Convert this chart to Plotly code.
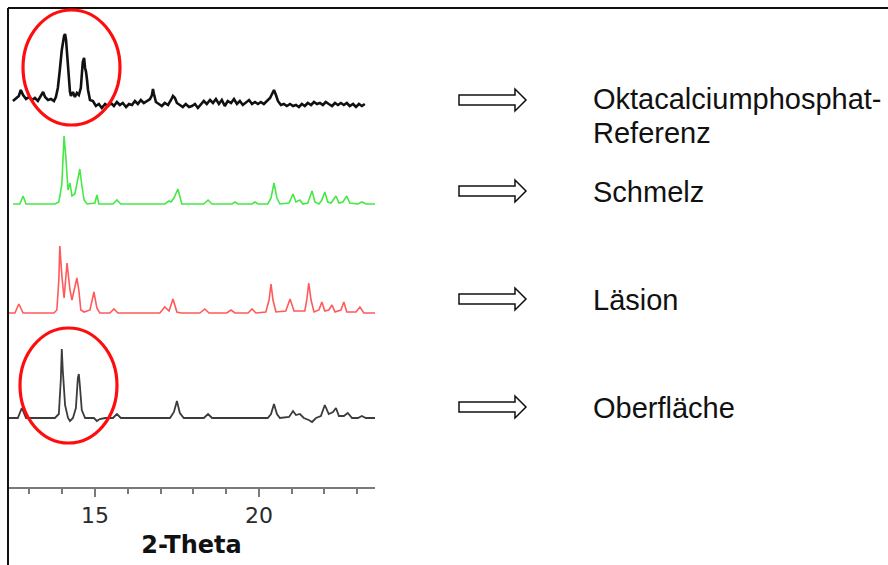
import plotly.graph_objects as go

W, H = 888, 565

# ---------------- data (2-Theta in degrees, intensity in arbitrary units) ----------------
ref_theta = [12.50, 12.59, 12.68, 12.74, 12.81, 12.90, 12.99, 13.08, 13.17, 13.26, 13.35, 13.42, 13.48,
             13.57, 13.66, 13.75, 13.81, 13.87, 13.93, 13.99, 14.06, 14.09, 14.12, 14.18, 14.24, 14.27,
             14.33, 14.39, 14.45, 14.51, 14.57, 14.63, 14.67, 14.70, 14.73, 14.76, 14.79, 14.85, 14.94,
             15.03, 15.12, 15.21, 15.31, 15.40, 15.49, 15.58, 15.67, 15.76, 15.85, 15.95, 16.04, 16.13,
             16.22, 16.31, 16.40, 16.49, 16.59, 16.68, 16.74, 16.77, 16.80, 16.86, 16.95, 17.04, 17.13,
             17.23, 17.32, 17.38, 17.44, 17.50, 17.59, 17.68, 17.77, 17.87, 17.96, 18.05, 18.14, 18.23,
             18.32, 18.41, 18.51, 18.60, 18.69, 18.78, 18.87, 18.96, 19.05, 19.15, 19.24, 19.33, 19.42,
             19.51, 19.60, 19.70, 19.79, 19.88, 19.97, 20.06, 20.15, 20.24, 20.34, 20.40, 20.46, 20.52,
             20.58, 20.67, 20.76, 20.85, 20.95, 21.04, 21.13, 21.22, 21.31, 21.40, 21.49, 21.59, 21.68,
             21.77, 21.86, 21.95, 22.04, 22.13, 22.23, 22.32, 22.41, 22.50, 22.59, 22.68, 22.77, 22.87,
             22.96, 23.05, 23.14, 23.23]
ref_int = [9, 12, 14, 20, 15, 11, 13, 10, 12, 9, 14, 18, 13,
           10, 11, 9, 13, 22, 40, 60, 74, 76, 70, 40, 18, 14,
           18, 13, 17, 15, 22, 48, 52, 42, 38, 30, 20, 10, 9,
           4, 6, 2, 6, 4, 7, 4, 8, 5, 7, 3, 6, 5,
           9, 6, 10, 7, 9, 11, 15, 21, 16, 8, 6, 4, 7,
           5, 10, 14, 12, 7, 5, 3, 6, 3, 4, 6, 2, 5,
           9, 6, 10, 7, 11, 6, 10, 4, 9, 7, 11, 6, 9,
           5, 7, 10, 6, 8, 6, 8, 6, 9, 12, 16, 20, 15,
           9, 5, 6, 4, 6, 4, 5, 3, 6, 4, 7, 5, 8,
           6, 7, 5, 8, 6, 4, 7, 5, 7, 5, 7, 4, 6,
           3, 6, 4, 6]

enamel_theta = [12.50, 12.71, 12.81, 12.90, 13.78, 13.90, 13.99, 14.06, 14.12, 14.18, 14.24, 14.30,
                14.39, 14.48, 14.54, 14.60, 14.67, 14.76, 15.00, 15.06, 15.12, 15.55, 15.67, 15.79,
                17.13, 17.26, 17.32, 17.41, 17.50, 17.53, 17.65, 18.32, 18.45, 18.57, 19.18, 19.27,
                19.36, 19.79, 19.88, 19.97, 20.27, 20.37, 20.46, 20.55, 20.64, 20.92, 21.04, 21.13,
                21.25, 21.34, 21.49, 21.62, 21.71, 21.83, 21.92, 22.01, 22.10, 22.20, 22.35, 22.44,
                22.56, 22.68, 22.77, 23.02, 23.14, 23.26, 23.54]
enamel_int = [6, 6, 14, 6, 6, 8, 25, 74, 50, 20, 27, 14,
              16, 32, 41, 25, 10, 6, 7, 15, 6, 6, 10, 6,
              6, 9, 8, 12, 20, 21, 6, 6, 10, 6, 6, 8,
              6, 6, 8, 6, 6, 12, 27, 12, 6, 7, 16, 8,
              10, 6, 7, 19, 8, 6, 10, 18, 8, 7, 14, 7,
              8, 14, 7, 6, 8, 6, 6]

lesion_theta = [12.35, 12.56, 12.68, 12.81, 13.75, 13.84, 13.90, 13.93, 13.99, 14.06, 14.15, 14.24,
                14.30, 14.39, 14.45, 14.51, 14.57, 14.67, 14.85, 14.97, 15.06, 15.15, 15.46, 15.58,
                15.70, 16.98, 17.13, 17.26, 17.38, 17.50, 17.62, 18.20, 18.35, 18.48, 19.02, 19.15,
                19.27, 19.67, 19.79, 19.91, 20.21, 20.31, 20.37, 20.43, 20.52, 20.82, 20.95, 21.07,
                21.40, 21.46, 21.52, 21.59, 21.68, 21.83, 21.92, 22.01, 22.13, 22.23, 22.32, 22.50,
                22.59, 22.68, 22.96, 23.08, 23.20, 23.54]
lesion_int = [7, 7, 16, 7, 7, 10, 40, 74, 45, 22, 57, 30,
              20, 35, 42, 30, 10, 8, 10, 28, 12, 7, 7, 11,
              7, 7, 13, 9, 21, 8, 7, 7, 11, 7, 7, 10,
              7, 7, 11, 7, 8, 20, 36, 20, 8, 9, 21, 9,
              9, 20, 37, 20, 8, 10, 18, 9, 10, 15, 8, 10,
              18, 8, 8, 13, 7, 7]

surface_theta = [12.35, 12.65, 12.77, 12.90, 13.78, 13.90, 13.96, 13.99, 14.02, 14.09, 14.18, 14.24,
                 14.33, 14.42, 14.48, 14.51, 14.54, 14.60, 14.70, 14.97, 15.06, 15.15, 15.31, 15.55,
                 15.67, 15.79, 17.29, 17.41, 17.50, 17.59, 17.71, 18.32, 18.45, 18.57, 20.27, 20.37,
                 20.46, 20.55, 20.64, 20.92, 21.04, 21.13, 21.25, 21.37, 21.52, 21.62, 21.74, 21.89,
                 22.01, 22.13, 22.26, 22.35, 22.44, 22.59, 22.71, 22.84, 23.02, 23.14, 23.26, 23.54]
surface_int = [7, 7, 17, 7, 7, 11, 45, 76, 55, 20, 7, 4,
               7, 17, 47, 51, 40, 15, 7, 7, 4, 6, 7, 7,
               11, 7, 7, 13, 24, 12, 7, 7, 11, 7, 7, 11,
               21, 11, 7, 8, 14, 10, 11, 7, 5, 3, 7, 9,
               20, 11, 13, 17, 9, 9, 12, 7, 7, 9, 7, 7]

# vertical offsets of the stacked patterns (same arbitrary units)
offsets = {"ref": 455, "enamel": 355, "lesion": 245, "surface": 140}

labels = ["Oktacalciumphosphat-", "Referenz", "Schmelz", "Läsion", "Oberfläche"]
xticks = [15, 20]

# ---------------- helpers for layout (pixel -> paper) ----------------
def px(x):
    return x / W

def py(y):
    return 1 - y / H

fig = go.Figure()

fig.add_trace(go.Scatter(x=ref_theta, y=[v + offsets["ref"] for v in ref_int], mode="lines",
                         line=dict(color="#111111", width=2.6), hoverinfo="skip"))
fig.add_trace(go.Scatter(x=enamel_theta, y=[v + offsets["enamel"] for v in enamel_int], mode="lines",
                         line=dict(color="#45e845", width=1.6), hoverinfo="skip"))
fig.add_trace(go.Scatter(x=lesion_theta, y=[v + offsets["lesion"] for v in lesion_int], mode="lines",
                         line=dict(color="#ff5a5a", width=1.6), hoverinfo="skip"))
fig.add_trace(go.Scatter(x=surface_theta, y=[v + offsets["surface"] for v in surface_int], mode="lines",
                         line=dict(color="#3c3c3c", width=1.8), hoverinfo="skip"))

shapes = []
# frame (top and left border)
shapes.append(dict(type="line", xref="paper", yref="paper", x0=px(8), x1=px(W), y0=py(8), y1=py(8),
                   line=dict(color="#111111", width=2)))
shapes.append(dict(type="line", xref="paper", yref="paper", x0=px(8), x1=px(8), y0=py(8), y1=py(H),
                   line=dict(color="#111111", width=2)))
# red ellipses
shapes.append(dict(type="circle", xref="paper", yref="paper", x0=px(23), x1=px(120), y0=py(10), y1=py(125),
                   line=dict(color="#ff0d0d", width=3.2)))
shapes.append(dict(type="circle", xref="paper", yref="paper", x0=px(20), x1=px(117), y0=py(328), y1=py(443),
                   line=dict(color="#ff0d0d", width=3.2)))

# outline arrows
def arrow_path(yc):
    pts = [(459, yc - 5), (515, yc - 5), (515, yc - 11), (526, yc), (515, yc + 11), (515, yc + 5), (459, yc + 5)]
    return "M " + " L ".join(f"{px(x):.5f},{py(y):.5f}" for x, y in pts) + " Z"

for yc in [100, 191, 299, 407]:
    shapes.append(dict(type="path", xref="paper", yref="paper", path=arrow_path(yc),
                       line=dict(color="#111111", width=1.5), fillcolor="white"))

annotations = []
label_y = [99, 133, 192, 300, 408]
for t, yy in zip(labels, label_y):
    annotations.append(dict(text=t, xref="paper", yref="paper", x=px(591), y=py(yy), xanchor="left",
                            yanchor="middle", showarrow=False,
                            font=dict(family="Liberation Sans, Arial", size=29, color="#111111")))

fig.update_layout(
    width=W, height=H,
    margin=dict(l=0, r=0, t=0, b=0),
    paper_bgcolor="white", plot_bgcolor="white",
    showlegend=False,
    shapes=shapes, annotations=annotations,
    xaxis=dict(domain=[px(8), px(375)], range=[12.35, 23.54], anchor="free", position=py(488),
               showline=True, linecolor="#7a7a7a", linewidth=2, showgrid=False, zeroline=False,
               tickmode="array", tickvals=xticks, ticks="outside", ticklen=8, tickwidth=1.5,
               tickcolor="#7a7a7a",
               tickfont=dict(family="DejaVu Sans", size=22, color="#2a2a2a"),
               minor=dict(dtick=1, ticks="outside", ticklen=5, tickwidth=1.5, tickcolor="#7a7a7a",
                          showgrid=False),
               title=dict(text="<b>2-Theta</b>", standoff=8,
                          font=dict(family="DejaVu Sans", size=24, color="#111111"))),
    yaxis=dict(domain=[0, 1], range=[0, H], visible=False, fixedrange=True),
)

fig.write_html("out.html")
